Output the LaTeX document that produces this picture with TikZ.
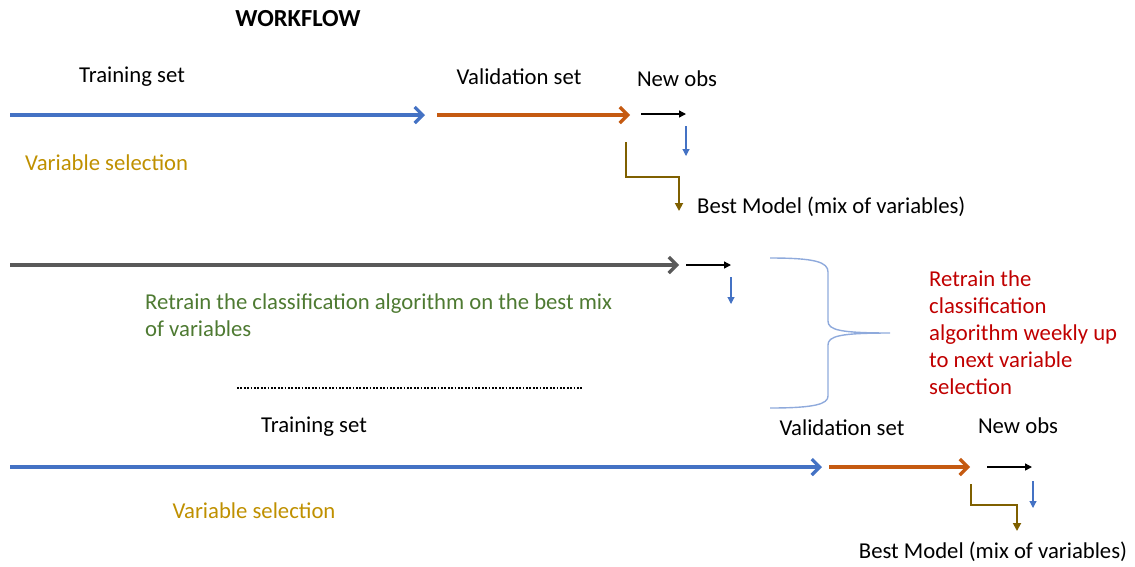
\documentclass[tikz,border=0pt]{standalone}
\usepackage{fontspec}
\setmainfont{Carlito}
\usepackage{xcolor}
\usepackage{tikz}
\usetikzlibrary{arrows.meta}
\definecolor{traincolor}{HTML}{4472C4}
\definecolor{validcolor}{HTML}{C55A11}
\definecolor{bestcolor}{HTML}{7F6000}
\definecolor{selcolor}{HTML}{BF9000}
\definecolor{greencolor}{HTML}{4E7A32}
\definecolor{redcolor}{HTML}{C00000}
\definecolor{graycolor}{HTML}{595959}
\definecolor{bracecolor}{HTML}{8FAADC}

\begin{document}
\begin{tikzpicture}[x=1pt,y=-1pt,font=\fontsize{22.7}{27}\selectfont,
    lbl/.style={inner sep=0pt},
    bigarr/.style={line width=3.2pt,-{Straight Barb[length=8pt,width=16pt]}},
    smallarr/.style={line width=1.4pt,-{Triangle[length=7pt,width=7pt]}},
    downarr/.style={traincolor,line width=1.1pt,-{Triangle[length=7pt,width=7pt]}},
    bestarr/.style={bestcolor,line width=1.8pt,-{Triangle[length=8pt,width=8pt]}}]
    \useasboundingbox (0,0) rectangle (1135,566);

    % headings
    \node[lbl,font=\fontsize{24.5}{27}\selectfont\bfseries] (title) at (298,19) {WORKFLOW};
    \foreach \n/\x/\y/\t in {train1/132/77/Training set,valid1/519/77/Validation set,
                             new1/677/79/New obs,train2/314/427/Training set,
                             valid2/842/428/Validation set,new2/1018/426/New obs} {
      \node[lbl] (\n) at (\x,\y) {\t};
    }

    % first selection
    \coordinate (t1s) at (10,115);  \coordinate (t1e) at (425,115);
    \coordinate (v1s) at (437,115); \coordinate (v1e) at (630,115);
    \coordinate (n1s) at (641,114); \coordinate (n1e) at (686,114);
    \coordinate (d1s) at (686,126); \coordinate (d1e) at (686,156);
    \coordinate (b1s) at (626,142); \coordinate (b1e) at (679,211);
    \draw[bigarr,traincolor] (t1s) -- (t1e);
    \draw[bigarr,validcolor] (v1s) -- (v1e);
    \draw[smallarr] (n1s) -- (n1e);
    \draw[downarr] (d1s) -- (d1e);
    \draw[bestarr] (b1s) -- ++(0,35) -| (b1e);
    \node[lbl,anchor=mid west,text=selcolor] (sel1) at (25,168) {Variable selection};
    \node[lbl,anchor=mid west] (best1) at (697,211) {Best Model (mix of variables)};

    % retrain
    \coordinate (g1s) at (10,265);  \coordinate (g1e) at (679,265);
    \coordinate (n2s) at (686,265); \coordinate (n2e) at (731,265);
    \coordinate (d2s) at (731,277); \coordinate (d2e) at (731,304);
    \draw[bigarr,graycolor] (g1s) -- (g1e);
    \draw[smallarr] (n2s) -- (n2e);
    \draw[downarr] (d2s) -- (d2e);
    \node[lbl,anchor=north west,align=left,text=greencolor] (retrain) at (145,294)
      {Retrain the classification algorithm on the best mix\\of variables};

    \coordinate (dots) at (237,388); \coordinate (dote) at (583,388);
    \draw[line width=2.2pt,dash pattern=on 1.8pt off 1.6pt] (dots) -- (dote);

    % brace
    \coordinate (brt) at (770,258); \coordinate (brb) at (770,408);
    \coordinate (brtip) at (890,333);
    \draw[bracecolor,line width=1.4pt] (brt) .. controls (815,258) and (828,262) .. (828,272)
      -- (828,321) .. controls (828,330) and (840,333) .. (brtip)
      .. controls (840,333) and (828,336) .. (828,345)
      -- (828,396) .. controls (828,404) and (815,408) .. (brb);
    \node[lbl,anchor=north west,align=left,text=redcolor] (weekly) at (929,271)
      {Retrain the\\classification\\algorithm weekly up\\to next variable\\selection};

    % second selection
    \coordinate (t2s) at (10,467);  \coordinate (t2e) at (822,467);
    \coordinate (v2s) at (829,467); \coordinate (v2e) at (970,467);
    \coordinate (n3s) at (987,467); \coordinate (n3e) at (1032,467);
    \coordinate (d3s) at (1033,481); \coordinate (d3e) at (1033,508);
    \coordinate (b2s) at (971,484); \coordinate (b2e) at (1017,531);
    \draw[bigarr,traincolor] (t2s) -- (t2e);
    \draw[bigarr,validcolor] (v2s) -- (v2e);
    \draw[smallarr] (n3s) -- (n3e);
    \draw[downarr] (d3s) -- (d3e);
    \draw[bestarr] (b2s) -- ++(0,21) -| (b2e);
    \node[lbl,text=selcolor] (sel2) at (254,511) {Variable selection};
    \node[lbl] (best2) at (993,552) {Best Model (mix of variables)};
\end{tikzpicture}
\end{document}
